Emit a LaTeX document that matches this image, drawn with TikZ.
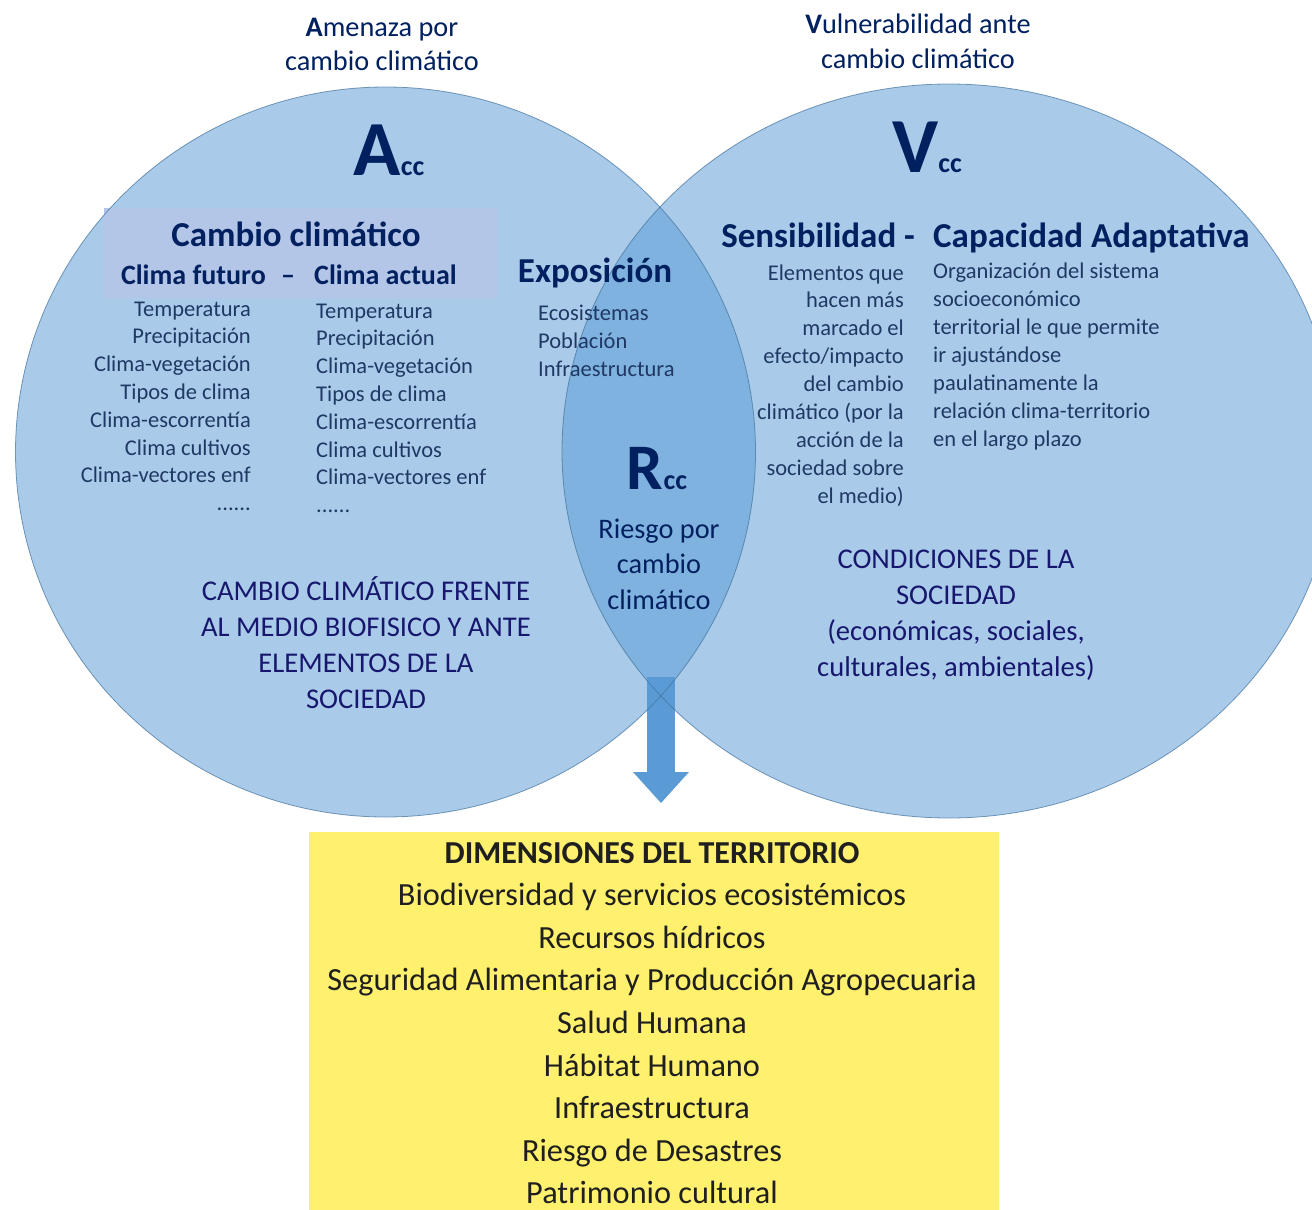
\documentclass[tikz,border=0pt]{standalone}
\usepackage{fontspec}
\setmainfont{Carlito}
\usetikzlibrary{arrows.meta}
\definecolor{ccblue}{HTML}{5B9BD5}
\definecolor{ccline}{HTML}{41719C}
\definecolor{ccnavy}{HTML}{002060}
\definecolor{ccitem}{HTML}{1F3864}
\definecolor{cccaps}{HTML}{17176E}
\definecolor{cclav}{HTML}{B4C6E7}
\definecolor{ccyellow}{HTML}{FFF06E}
\newcommand{\symcc}[2]{{\fontsize{#2}{#2}\selectfont\bfseries #1\fontsize{28}{28}\selectfont cc}}
\newcommand{\puntos}{......}

\begin{document}
\begin{tikzpicture}[x=1pt,y=-1pt,
	every node/.style={inner sep=0pt},
	ttl/.style={font=\fontsize{28.3}{34}\selectfont, text=ccnavy, anchor=base},
	headtxt/.style={font=\fontsize{35}{40}\selectfont\bfseries, text=ccnavy},
	subtxt/.style={font=\fontsize{28}{32}\selectfont\bfseries, text=ccnavy},
	itm/.style={font=\fontsize{22.5}{26}\selectfont, text=ccitem},
	capstxt/.style={font=\fontsize{28.6}{34}\selectfont, text=cccaps, anchor=base},
	dimtxt/.style={font=\fontsize{32.3}{38}\selectfont, text=black!88, anchor=base},
	dimtitle/.style={font=\fontsize{32}{38}\selectfont\bfseries, text=black!88, anchor=base}]
	\clip (0,0) rectangle (1312,1210);

	% circles
	\fill[ccblue, fill opacity=0.52] (385.5,452) ellipse [x radius=370pt, y radius=365pt];
	\fill[ccblue, fill opacity=0.52] (949,451) ellipse [x radius=387pt, y radius=367pt];

	% boxes
	\node[fill=cclav, minimum width=393pt, minimum height=90pt, anchor=north west] (cbox) at (104,208) {};
	\node[fill=ccyellow, minimum width=690pt, minimum height=420pt, anchor=north west] (dims) at (309,832) {};

	% arrow
	\coordinate (arrtop) at (661,677);
	\draw[ccblue, line width=28pt, -{Triangle[width=56pt,length=31pt,line width=0pt]}, shorten >=29pt] (arrtop) -- (arrtop |- dims.north);

	% outlines
	\draw[ccline, line width=0.8pt, draw opacity=0.7] (385.5,452) ellipse [x radius=370pt, y radius=365pt];
	\draw[ccline, line width=0.8pt, draw opacity=0.7] (949,451) ellipse [x radius=387pt, y radius=367pt];

	\node[ttl] (amenaza1) at (382,36) {\textbf{A}menaza por};
	\node[ttl] (amenaza2) at (382,70) {cambio climático};
	\node[ttl] (vuln1) at (918,33) {\textbf{V}ulnerabilidad ante};
	\node[ttl] (vuln2) at (918,68) {cambio climático};

	\node[anchor=base, text=ccnavy] (acc) at (389,175) {\symcc{A}{78}};
	\node[anchor=base, text=ccnavy] (vcc) at (927,172) {\symcc{V}{78}};
	\node[anchor=base, text=ccnavy] (rcc) at (657,489) {\symcc{R}{65}};

	% amenaza
	\node[headtxt, anchor=base] (cambio) at (296,246) {Cambio climático};
	\node[subtxt, anchor=base east] (futuro) at (266,284) {Clima futuro};
	\node[subtxt, anchor=base] (guion) at (288,284) {–};
	\node[subtxt, anchor=base west] (actual) at (314,284) {Clima actual};
	\foreach \t [count=\i] in {Temperatura, Precipitación, Clima-vegetación, Tipos de clima, Clima-escorrentía, Clima cultivos, Clima-vectores enf, \puntos}
		\node[itm, anchor=base east] (fut\i) at (251,{316+27.8*(\i-1)}) {\t};
	\foreach \t [count=\i] in {Temperatura, Precipitación, Clima-vegetación, Tipos de clima, Clima-escorrentía, Clima cultivos, Clima-vectores enf, \puntos}
		\node[itm, anchor=base west] (act\i) at (316,{318+27.8*(\i-1)}) {\t};
	\foreach \t [count=\i] in {CAMBIO CLIMÁTICO FRENTE, AL MEDIO BIOFISICO Y ANTE, ELEMENTOS DE LA, SOCIEDAD}
		\node[capstxt] (medio\i) at (366,{600+36*(\i-1)}) {\t};

	% exposicion y riesgo
	\node[headtxt, anchor=base] (expo) at (595,282) {Exposición};
	\foreach \t [count=\i] in {Ecosistemas, Población, Infraestructura}
		\node[itm, anchor=base west] (expo\i) at (538,{320+28*(\i-1)}) {\t};
	\foreach \t [count=\i] in {Riesgo por, cambio, climático}
		\node[ttl] (riesgo\i) at (659,{538+35.5*(\i-1)}) {\t};

	% vulnerabilidad
	\node[headtxt, anchor=base east] (sens) at (915,247) {Sensibilidad -};
	\node[headtxt, anchor=base west] (capad) at (933,247) {Capacidad Adaptativa};
	\foreach \t [count=\i] in {Elementos que, hacen más, marcado el, efecto/impacto, del cambio, climático (por la, acción de la, sociedad sobre, el medio)}
		\node[itm, anchor=base east] (sens\i) at (904,{280+27.9*(\i-1)}) {\t};
	\foreach \t [count=\i] in {Organización del sistema, socioeconómico, territorial le que permite, ir ajustándose, paulatinamente la, relación clima-territorio, en el largo plazo}
		\node[itm, anchor=base west] (capad\i) at (933,{278+28*(\i-1)}) {\t};
	\foreach \t [count=\i] in {CONDICIONES DE LA, SOCIEDAD, {(económicas, sociales,}, {culturales, ambientales)}}
		\node[capstxt] (cond\i) at (956,{568+36*(\i-1)}) {\t};

	% dimensiones
	\node[dimtitle] (dimT) at (652,863) {DIMENSIONES DEL TERRITORIO};
	\foreach \t [count=\i] in {Biodiversidad y servicios ecosistémicos, Recursos hídricos, Seguridad Alimentaria y Producción Agropecuaria, Salud Humana, Hábitat Humano, Infraestructura, Riesgo de Desastres, Patrimonio cultural}
		\node[dimtxt] (dim\i) at (652,{863+42.6*\i}) {\t};
\end{tikzpicture}
\end{document}
